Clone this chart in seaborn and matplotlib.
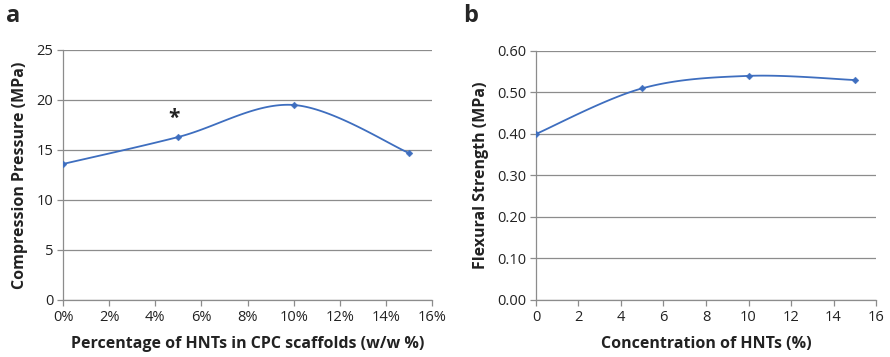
import numpy as np
import pandas as pd
import matplotlib
matplotlib.use("Agg")
import matplotlib.pyplot as plt
import seaborn as sns
from matplotlib.ticker import FuncFormatter

# Data
conc_a = [0, 5, 10, 15]
compression = [13.6, 16.3, 19.5, 14.7]
conc_b = [0, 5, 10, 15]
flexural = [0.40, 0.51, 0.54, 0.53]

sns.set_theme(style="white")
plt.rcParams['font.family'] = ['Open Sans', 'DejaVu Sans']

LINE = "#3E6EBF"
GRID = "#8C8C8C"


def smooth(x, y, n=40):
    """Excel-like smoothed line (Catmull-Rom / Bezier with 1/6 tension)."""
    x = np.asarray(x, float); y = np.asarray(y, float)
    px = np.concatenate([[x[0]], x, [x[-1]]])
    py = np.concatenate([[y[0]], y, [y[-1]]])
    xs, ys = [], []
    t = np.linspace(0, 1, n)
    for i in range(1, len(px) - 2):
        p0 = np.array([px[i], py[i]])
        p3 = np.array([px[i + 1], py[i + 1]])
        p1 = p0 + (np.array([px[i + 1], py[i + 1]]) - np.array([px[i - 1], py[i - 1]])) / 6
        p2 = p3 - (np.array([px[i + 2], py[i + 2]]) - np.array([px[i], py[i]])) / 6
        b = ((1 - t) ** 3)[:, None] * p0 + (3 * (1 - t) ** 2 * t)[:, None] * p1 \
            + (3 * (1 - t) * t ** 2)[:, None] * p2 + (t ** 3)[:, None] * p3
        xs.extend(b[:, 0]); ys.extend(b[:, 1])
    return np.array(xs), np.array(ys)


fig = plt.figure(figsize=(8.9, 3.57), dpi=100)
ax1 = fig.add_axes([0.0708, 0.1597, 0.4146, 0.7003])
ax2 = fig.add_axes([0.6022, 0.1597, 0.3821, 0.6975])


def style(ax, xlim, ylim, yticks, xticks):
    ax.set_xlim(*xlim); ax.set_ylim(*ylim)
    ax.set_yticks(yticks); ax.set_xticks(xticks)
    ax.grid(axis='y', color=GRID, lw=0.9)
    ax.set_axisbelow(True)
    for s in ['top', 'right']:
        ax.spines[s].set_visible(False)
    for s in ['left', 'bottom']:
        ax.spines[s].set_color(GRID)
        ax.spines[s].set_linewidth(0.9)
    ax.tick_params(axis='both', which='both', direction='out', length=4,
                   width=0.9, color=GRID, labelsize=10.5, labelcolor='#222222', pad=3)
    ax.tick_params(axis='both', bottom=True, left=True)


# Panel a
sx, sy = smooth(conc_a, compression)
sns.lineplot(x=sx, y=sy, ax=ax1, color=LINE, lw=1.3, sort=False, estimator=None)
sns.scatterplot(x=conc_a, y=compression, ax=ax1, color=LINE, marker='D', s=12,
                edgecolor=LINE, zorder=3)
style(ax1, (0, 16), (0, 25), [0, 5, 10, 15, 20, 25], np.arange(0, 17, 2))
ax1.xaxis.set_major_formatter(FuncFormatter(lambda v, p: f"{int(v)}%"))
ax1.set_xlabel("Percentage of HNTs in CPC scaffolds (w/w %)", fontsize=11.5,
               fontweight='bold', color='#222222', labelpad=8)
ax1.set_ylabel("Compression Pressure (MPa)", fontsize=11.5, fontweight='bold',
               color='#222222', labelpad=6)
ax1.text(conc_a[1] - 0.2, compression[1] + 0.8, "*", ha='center', va='bottom',
         fontsize=15, fontweight='bold', color='#222222')

# Panel b
sx, sy = smooth(conc_b, flexural)
sns.lineplot(x=sx, y=sy, ax=ax2, color=LINE, lw=1.3, sort=False, estimator=None)
sns.scatterplot(x=conc_b, y=flexural, ax=ax2, color=LINE, marker='D', s=12,
                edgecolor=LINE, zorder=3)
style(ax2, (0, 16), (0, 0.60), np.arange(0, 0.61, 0.1), np.arange(0, 17, 2))
ax2.yaxis.set_major_formatter(FuncFormatter(lambda v, p: f"{v:.2f}"))
ax2.set_xlabel("Concentration of HNTs (%)", fontsize=11.5, fontweight='bold',
               color='#222222', labelpad=8)
ax2.set_ylabel("Flexural Strength (MPa)", fontsize=11.5, fontweight='bold',
               color='#222222', labelpad=6)

fig.text(0.007, 0.99, "a", fontsize=17, fontweight='bold', va='top', ha='left')
fig.text(0.52, 0.99, "b", fontsize=17, fontweight='bold', va='top', ha='left')

fig.savefig("out.png", dpi=100)
